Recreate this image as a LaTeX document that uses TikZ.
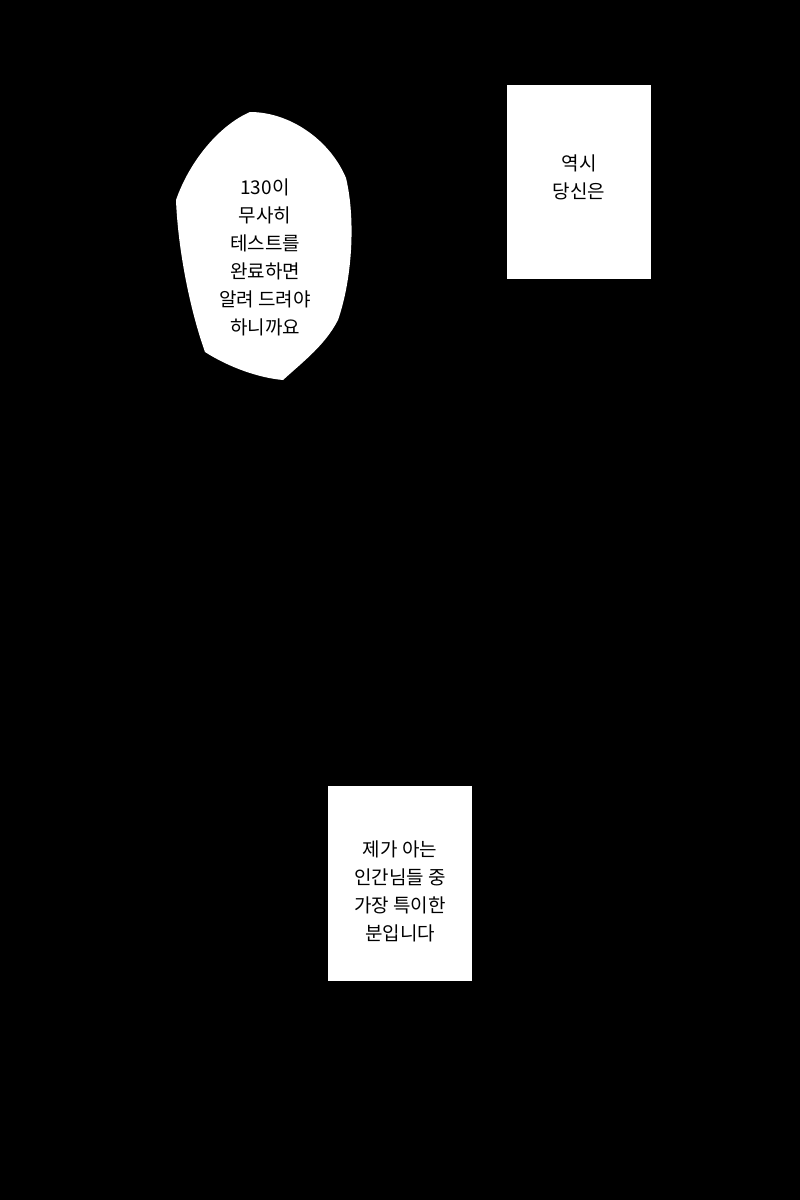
\documentclass[tikz,border=0pt]{standalone}
\usepackage{fontspec}
\newfontfamily\kofont{Noto Sans CJK KR}
\usetikzlibrary{positioning}
\tikzset{
  panel/.style={fill=white, draw=none},
  speech/.style={font=\kofont\fontsize{19}{28}\selectfont, align=center, text=black}
}
\begin{document}
\begin{tikzpicture}[x=1pt, y=-1pt]
  % background
  \fill[black] (0,0) rectangle (800,1200);
  \useasboundingbox (0,0) rectangle (800,1200);
  % speech bubble
  \fill[white] (250,112) .. controls (220,125) and (190,160) .. (176,200)
    .. controls (178,250) and (190,310) .. (205,352)
    .. controls (230,368) and (260,378) .. (283,380)
    .. controls (305,360) and (325,345) .. (338,320)
    .. controls (352,280) and (356,220) .. (346,178)
    .. controls (330,140) and (290,112) .. (250,112) -- cycle;
  \node[speech] (bubble) at (265,257) {130이\\무사히\\테스트를\\완료하면\\알려 드려야\\하니까요};
  % boxes
  \fill[panel] (507,85) rectangle (651,279);
  \node[speech] (box1) at (579,177) {역시\\당신은};
  \fill[panel] (328,786) rectangle (472,981);
  \node[speech] (box2) at (400,891) {제가 아는\\인간님들 중\\가장 특이한\\분입니다};
\end{tikzpicture}
\end{document}
